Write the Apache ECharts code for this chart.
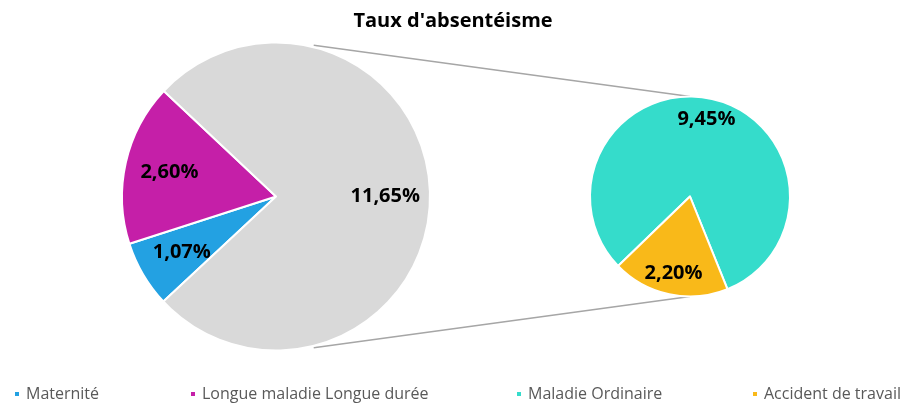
<!DOCTYPE html>
<html>
<head>
<meta charset="utf-8">
<title>Taux d'absentéisme</title>
<script src="https://cdn.jsdelivr.net/npm/echarts@6/dist/echarts.min.js"></script>
<style>
  html, body { margin: 0; padding: 0; background: #fff; }
  #main { width: 906px; height: 404px; }
</style>
</head>
<body>
<div id="main"></div>
<script>
// données
var mainCats = ['Maternité', 'Longue maladie Longue durée', 'Autres'];
var mainVals = [1.07, 2.60, 11.65];
var mainColors = ['#23a1e2', '#c51fa8', '#d9d9d9'];

var subCats = ['Maladie Ordinaire', 'Accident de travail'];
var subVals = [9.45, 2.20];
var subColors = ['#35dccb', '#f9b919'];

var legendNames = ['Maternité', 'Longue maladie Longue durée', 'Maladie Ordinaire', 'Accident de travail'];
var legendColors = ['#23a1e2', '#c51fa8', '#35dccb', '#f9b919'];
var legendLefts = [13, 189, 515, 751];

// mise en page
var FONT = '"Open Sans"';
var C1 = [276, 196.5], R1 = 154;   // grand camembert
var C2 = [690, 196.5], R2 = 100;   // petit camembert

function fmt(v) {
    return v.toFixed(2).replace('.', ',') + '%';
}

var myChart = echarts.init(document.getElementById('main'));

function mk(cats, vals, colors) {
    var out = [];
    for (var i = 0; i < cats.length; i++) {
        out.push({ name: cats[i], value: vals[i], itemStyle: { color: colors[i] } });
    }
    return out;
}

// une série transparente plus grande sert à placer les étiquettes vers 0.7 r
function labelSeries(cats, vals, center, r, start) {
    var d = [];
    for (var i = 0; i < cats.length; i++) d.push({ name: cats[i], value: vals[i] });
    return {
        type: 'pie', center: center, radius: [0, r], startAngle: start,
        silent: true, z: 5,
        itemStyle: { color: 'rgba(0,0,0,0)', borderWidth: 0 },
        label: {
            show: true, position: 'inside', color: '#000',
            fontFamily: FONT, fontWeight: 'bold', fontSize: 20,
            formatter: function (p) { return fmt(p.value); }
        },
        labelLine: { show: false },
        emphasis: { disabled: true },
        data: d
    };
}

var legends = [];
for (var i = 0; i < legendNames.length; i++) {
    legends.push({
        left: legendLefts[i], top: 386, padding: 0,
        icon: 'rect', itemWidth: 6, itemHeight: 6, itemGap: 0,
        selectedMode: false,
        textStyle: { fontFamily: FONT, fontSize: 16, color: '#595959', padding: [0, 0, 0, 1] },
        data: [{ name: legendNames[i], itemStyle: { color: legendColors[i] } }]
    });
}

// lignes de liaison entre les deux camemberts
function pt(c, r, deg) {
    var a = deg * Math.PI / 180;
    return [c[0] + r * Math.cos(a), c[1] - r * Math.sin(a)];
}
var a1 = pt(C1, R1 + 2, 76), b1 = pt(C2, R2, 90);
var a2 = pt(C1, R1 + 2, -76), b2 = pt(C2, R2, -90);

var option = {
    backgroundColor: '#fff',
    title: {
        text: "Taux d'absentéisme", left: 'center', top: 6,
        textStyle: { fontFamily: FONT, fontWeight: 'bold', fontSize: 20, color: '#000' }
    },
    legend: legends,
    graphic: [
        { type: 'line', z: 1, shape: { x1: a1[0], y1: a1[1], x2: b1[0], y2: b1[1] }, style: { stroke: '#a6a6a6', lineWidth: 1.5 } },
        { type: 'line', z: 1, shape: { x1: a2[0], y1: a2[1], x2: b2[0], y2: b2[1] }, style: { stroke: '#a6a6a6', lineWidth: 1.5 } }
    ],
    series: [
        {
            type: 'pie', center: C1, radius: [0, R1], startAngle: 223,
            silent: true, z: 2,
            itemStyle: { borderColor: '#fff', borderWidth: 2 },
            label: { show: false }, labelLine: { show: false },
            data: mk(mainCats, mainVals, mainColors)
        },
        {
            type: 'pie', center: C2, radius: [0, R2], startAngle: 224,
            silent: true, z: 2,
            itemStyle: { borderColor: '#fff', borderWidth: 2 },
            label: { show: false }, labelLine: { show: false },
            data: mk(subCats, subVals, subColors)
        },
        labelSeries(mainCats, mainVals, C1, R1 * 1.38, 223),
        labelSeries(subCats, subVals, C2, R2 * 1.52, 224)
    ]
};

myChart.setOption(option);
window.onresize = myChart.resize;
</script>
</body>
</html>
